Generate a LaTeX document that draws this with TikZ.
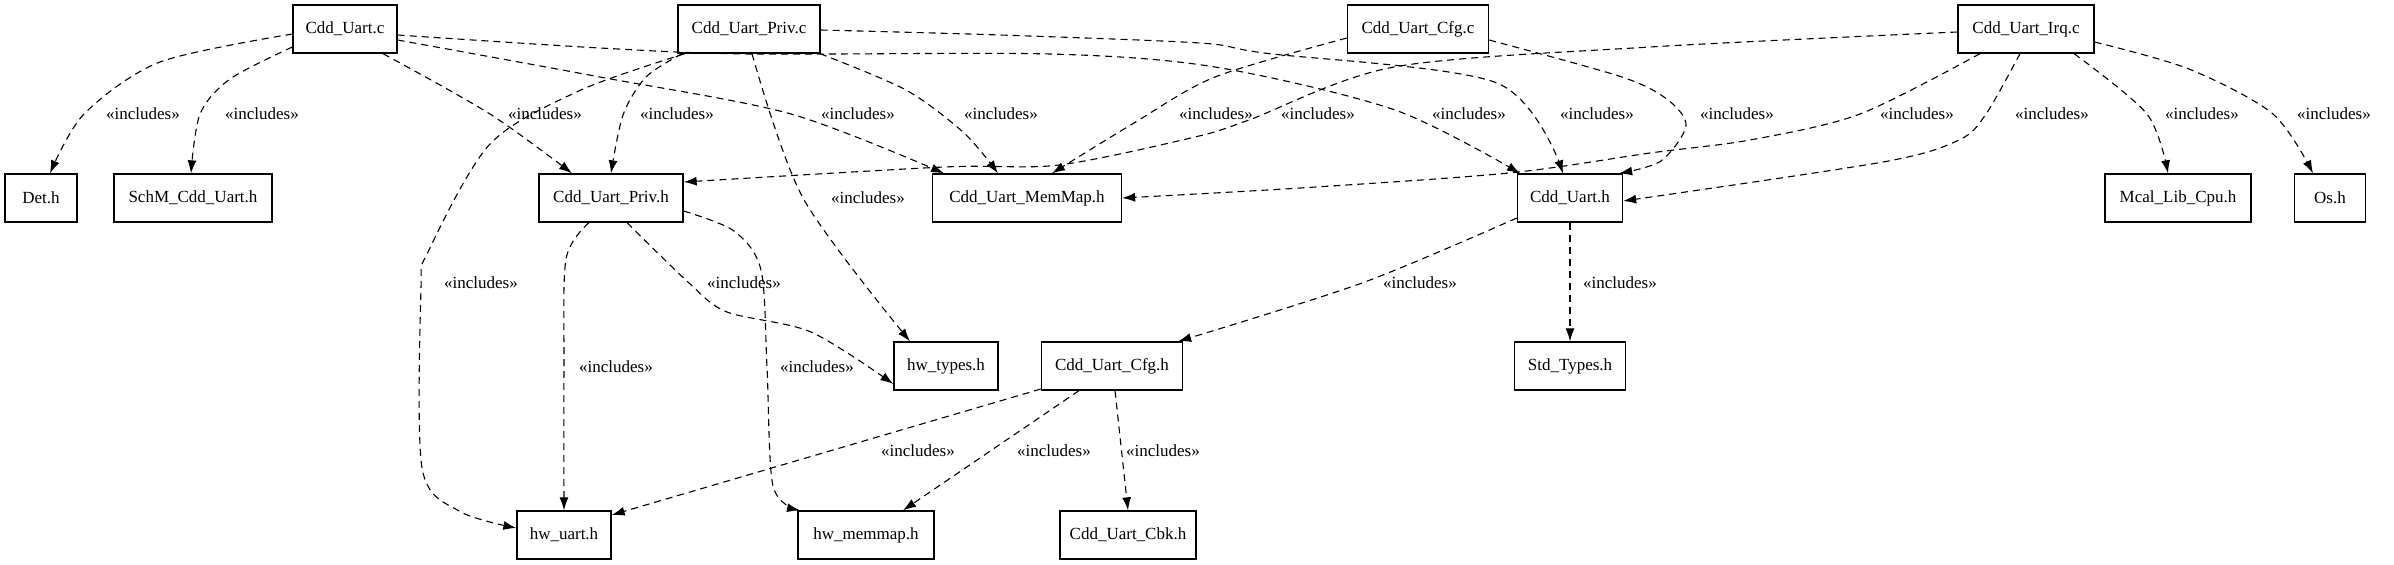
\documentclass[tikz,border=0pt]{standalone}
\usepackage{fontspec}
\setmainfont{Liberation Serif}
\usetikzlibrary{arrows.meta}
\begin{document}
\begin{tikzpicture}[x=1pt,y=-1pt,
  box/.style={draw,line width=1.3pt,minimum height=48pt,inner sep=0pt,font=\fontsize{17}{20}\selectfont},
  dep/.style={draw,line width=1.1pt,dash pattern=on 7pt off 5pt,-{Latex[length=13pt,width=9pt]}},
  lbl/.style={font=\fontsize{17}{20}\selectfont,inner sep=0pt}]
\useasboundingbox (0,0) rectangle (2394,565);
% nodes
\node[box,minimum width=104pt] (uc) at (345,29) {Cdd\_Uart.c};
\node[box,minimum width=142pt] (pc) at (749,29) {Cdd\_Uart\_Priv.c};
\node[box,minimum width=141pt] (cfgc) at (1418,29) {Cdd\_Uart\_Cfg.c};
\node[box,minimum width=136pt] (irq) at (2026,29) {Cdd\_Uart\_Irq.c};
\node[box,minimum width=72pt] (det) at (41,198) {Det.h};
\node[box,minimum width=158pt] (schm) at (193,198) {SchM\_Cdd\_Uart.h};
\node[box,minimum width=144pt] (privh) at (611,198) {Cdd\_Uart\_Priv.h};
\node[box,minimum width=189pt] (mm) at (1027,198) {Cdd\_Uart\_MemMap.h};
\node[box,minimum width=105pt] (cuh) at (1570,198) {Cdd\_Uart.h};
\node[box,minimum width=146pt] (mcal) at (2178,198) {Mcal\_Lib\_Cpu.h};
\node[box,minimum width=71pt] (os) at (2330,198) {Os.h};
\node[box,minimum width=104pt] (hwt) at (946,366) {hw\_types.h};
\node[box,minimum width=141pt] (cfgh) at (1112,366) {Cdd\_Uart\_Cfg.h};
\node[box,minimum width=111pt] (std) at (1570,366) {Std\_Types.h};
\node[box,minimum width=94pt] (hwu) at (564,535) {hw\_uart.h};
\node[box,minimum width=136pt] (hwm) at (866,535) {hw\_memmap.h};
\node[box,minimum width=136pt] (cbk) at (1128,535) {Cdd\_Uart\_Cbk.h};
% edges
\draw[dep] plot[smooth] coordinates {([yshift=-5pt]uc.west) (160,62) (84,114) ([xshift=9pt]det.north)};
\draw[dep] plot[smooth] coordinates {([yshift=-18pt]uc.west) (230,79) (200,114) ([xshift=-2pt]schm.north)};
\draw[dep] plot[smooth] coordinates {([xshift=38pt]uc.south) (490,114) ([xshift=-39pt]privh.north)};
\draw[dep] plot[smooth] coordinates {([yshift=-11pt]uc.east) (600,77) (791,114) ([xshift=-83pt]mm.north)};
\draw[dep] plot[smooth] coordinates {([yshift=-6pt]uc.east) (600,48) (750,54) (1050,54) (1215,67) (1395,110) ([xshift=-50pt]cuh.north)};
\draw[dep] plot[smooth] coordinates {([xshift=-64pt]pc.south) (581,90) (490,144) (428,252) (421,288) (422,468) (459,511) ([yshift=7pt]hwu.west)};
\draw[dep] plot[smooth] coordinates {([xshift=-67pt]pc.south) (646,77) (623,115) (privh.north)};
\draw[dep] plot[smooth] coordinates {([xshift=3pt]pc.south) (803,198) ([xshift=-36pt]hwt.north)};
\draw[dep] plot[smooth] coordinates {([xshift=71pt]pc.south) (906,90) (964,133) ([xshift=-29pt]mm.north)};
\draw[dep] plot[smooth] coordinates {([yshift=-1pt]pc.east) (1000,35) (1200,43) (1264,53) (1497,83) ([xshift=-7pt]cuh.north)};
\draw[dep] plot[smooth] coordinates {([yshift=-9pt]cfgc.west) (1215,77) (1134,123) ([xshift=25pt]mm.north)};
\draw[dep] plot[smooth] coordinates {([yshift=-11pt]cfgc.east) (1622,77) (1668,100) (1686,126) (1661,161) ([xshift=-4pt]cuh.north east)};
\draw[dep] plot[smooth] coordinates {([yshift=-3pt]irq.west) (1650,47) (1394,67) (1249,120) (1195,137) (1059,165) (944,167) ([yshift=16pt]privh.east)};
\draw[dep] plot[smooth] coordinates {([xshift=-46pt]irq.south) (1860,114) (1750,140) (1650,153) (1509,173) (1300,188) (mm.east)};
\draw[dep] plot[smooth] coordinates {([xshift=-6pt]irq.south) (1986,114) (1959,140) (1883,162) ([yshift=-3pt]cuh.east)};
\draw[dep] plot[smooth] coordinates {([xshift=48pt]irq.south) (2147,114) ([xshift=-10pt]mcal.north)};
\draw[dep] plot[smooth] coordinates {([yshift=-13pt]irq.east) (2189,69) (2273,114) ([xshift=-17pt]os.north)};
\draw[dep] plot[smooth] coordinates {([xshift=-22pt]privh.south) (566,259) (564,367) (hwu.north)};
\draw[dep] plot[smooth] coordinates {([xshift=16pt]privh.south) (689,283) (727,312) (811,332) ([yshift=-18pt]hwt.west)};
\draw[dep] plot[smooth] coordinates {([yshift=-13pt]privh.east) (734,231) (761,270) (767,367) (773,486) ([xshift=-66pt]hwm.north)};
\draw[dep] plot[smooth] coordinates {([yshift=-20pt]cuh.west) (1362,283) ([xshift=-5pt]cfgh.north east)};
\draw[dep] (cuh.south) -- (std.north);
\draw[dep] ([yshift=-23pt]cfgh.west) -- ([yshift=20pt]hwu.east);
\draw[dep] ([xshift=-33pt]cfgh.south) -- ([xshift=37pt]hwm.north);
\draw[dep] ([xshift=3pt]cfgh.south) -- (cbk.north);
% labels
\foreach \x in {143,262,545,677,858,1001,1216,1318,1469,1597,1737,1917,2052,2202,2334}
  \node[lbl] (l\x) at (\x,114) {<<includes>>};
\node[lbl] (la) at (868,198) {<<includes>>};
\node[lbl] (lb) at (481,283) {<<includes>>};
\node[lbl] (lc) at (744,283) {<<includes>>};
\node[lbl] (ld) at (1420,283) {<<includes>>};
\node[lbl] (le) at (1620,283) {<<includes>>};
\node[lbl] (lf) at (616,367) {<<includes>>};
\node[lbl] (lg) at (817,367) {<<includes>>};
\node[lbl] (lh) at (918,451) {<<includes>>};
\node[lbl] (li) at (1054,451) {<<includes>>};
\node[lbl] (lj) at (1163,451) {<<includes>>};
\end{tikzpicture}
\end{document}
